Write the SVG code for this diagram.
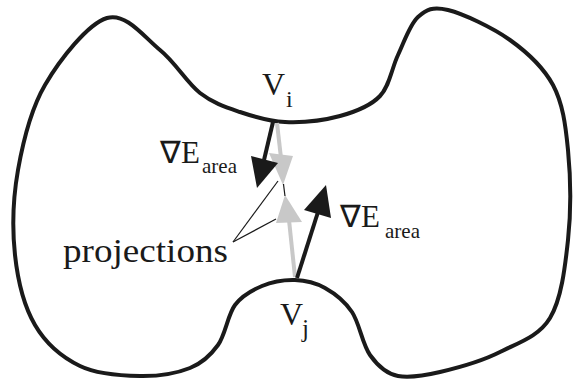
<svg xmlns="http://www.w3.org/2000/svg" width="573" height="381" viewBox="0 0 573 381">
<style>
.outline{fill:none;stroke:#1a1a1a;stroke-width:4;stroke-linejoin:round}
.shaftK{stroke:#1a1a1a;stroke-width:4;fill:none}
.shaftG{stroke:#c8c8c8;stroke-width:4;fill:none}
.headK{fill:#1a1a1a}
.headG{fill:#c8c8c8}
.leader{stroke:#1a1a1a;stroke-width:1.2;fill:none}
.t{font-family:'Liberation Serif','Times New Roman',serif;fill:#1a1a1a}
</style>
<rect width="573" height="381" fill="#ffffff"/>
<g id="shape">
<path class="outline" d="M107,18 C126.2,12.2 144.5,37.5 160,50 C175.5,62.5 186.7,82.7 200,93 C213.3,103.3 225.8,107.2 240,112 C254.2,116.8 268.3,121.3 285,122 C301.7,122.7 324.2,120.3 340,116 C355.8,111.7 370.3,106.2 380,96 C389.7,85.8 391.7,68.2 398,55 C404.3,41.8 409.7,24.5 418,17 C426.3,9.5 432.7,6.2 448,10 C463.3,13.8 492.5,27.5 510,40 C527.5,52.5 543,66.7 553,85 C562.7,103.3 565.5,124.2 568,150 C570.5,175.8 571,212 568,240 C565,268 561.3,299.3 550,318 C538.7,336.7 518.3,342.7 500,352 C481.7,361.3 457,368 440,372 C423,376 409.7,378 398,376 C386.3,373.8 377.7,365.8 370,355 C362.3,344.2 359.5,323.2 352,312 C344.5,300.8 334.5,293.3 325,288 C315.5,282.7 305.5,280.3 295,280 C284.5,279.7 272,281.8 262,286 C252,290.2 242.3,295.2 235,305 C227.7,314.8 225.5,334.5 218,345 C210.5,355.5 203,362.8 190,368 C177,373.2 158.3,376.3 140,376 C121.7,375.7 97.5,374.5 80,366 C62.5,357.5 45.8,343.5 35,325 C24.2,306.5 17.8,280.8 15,255 C12.2,229.2 13,198.3 18,170 C23,141.7 30.2,110.3 45,85 C59.8,59.7 87.8,23.8 107,18 Z"/>
</g>
<g id="connectors">
<line class="shaftG" x1="277" y1="123" x2="281" y2="158"/>
<polygon class="headG" points="283,185 269,153 293,156"/>
<line class="shaftK" x1="273" y1="122" x2="264" y2="160"/>
<polygon class="headK" points="257,188 251,156 278,163"/>
<line class="shaftG" x1="295" y1="277" x2="289" y2="220"/>
<polygon class="headG" points="285,195 276,223 302,222"/>
<line class="shaftK" x1="297" y1="278" x2="318" y2="212"/>
<polygon class="headK" points="326,185 304,210 331,218"/>
<line class="leader" x1="283.5" y1="184" x2="285" y2="196"/>
<line class="leader" x1="233" y1="242" x2="278" y2="181"/>
<line class="leader" x1="233" y1="242" x2="276" y2="219"/>
</g>
<g id="label-vi">
<text class="t" x="262" y="95" font-size="32">V</text>
<text class="t" x="286" y="107" font-size="24">i</text>
</g>
<g id="label-vj">
<text class="t" x="280" y="325" font-size="32">V</text>
<text class="t" x="302" y="337" font-size="25">j</text>
</g>
<g id="label-grad-i">
<text class="t" x="160" y="163" font-size="31">∇E</text>
<text class="t" x="202" y="173" font-size="21">area</text>
</g>
<g id="label-grad-j">
<text class="t" x="340" y="227" font-size="31">∇E</text>
<text class="t" x="385" y="238" font-size="21">area</text>
</g>
<g id="label-projections">
<text class="t" x="63" y="262" font-size="34" textLength="165" lengthAdjust="spacingAndGlyphs">projections</text>
</g>
</svg>
